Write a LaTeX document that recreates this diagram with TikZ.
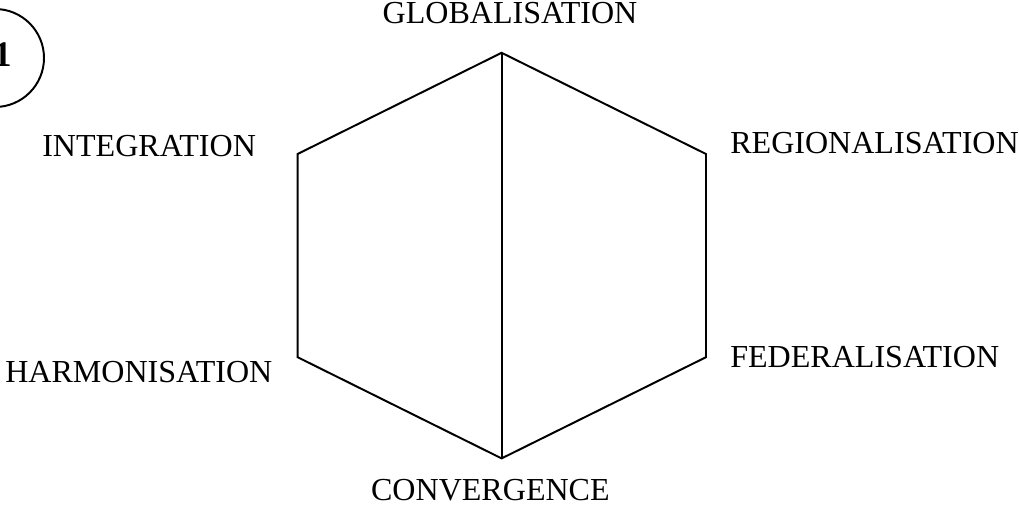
\documentclass[tikz,border=0pt]{standalone}
\usepackage{fontspec}
\setmainfont{Liberation Serif}
\begin{document}
\begin{tikzpicture}[
    hexLbG/.style={inner sep=0pt,font=\fontsize{22.8}{27}\selectfont},
    hexLnG/.style={draw=black,line width=1.4pt,line join=miter},
    numCrG/.style={circle,draw=black,line width=1.4pt,minimum size=2.45cm,inner sep=0pt},
]
\useasboundingbox (0,0) rectangle (25.475,12.7);
\coordinate (hexT) at (12.54,11.38);
\coordinate (hexUR) at (17.65,8.85);
\coordinate (hexLR) at (17.65,3.77);
\coordinate (hexB) at (12.54,1.24);
\coordinate (hexLL) at (7.44,3.77);
\coordinate (hexUL) at (7.44,8.85);
\node[numCrG] (numC) at (-0.125,11.25) {};
\node[anchor=base east,inner sep=0pt,font=\fontsize{25.6}{30}\selectfont\bfseries] (numT) at (0.3,11.03) {1};
\node[hexLbG,anchor=base] (glob) at (12.75,12.11) {GLOBALISATION};
\node[hexLbG,anchor=base] (conv) at (12.26,0.175) {CONVERGENCE};
\node[hexLbG,anchor=base west] (inte) at (1.05,8.775) {INTEGRATION};
\node[hexLbG,anchor=base west] (regi) at (18.25,8.85) {REGIONALISATION};
\node[hexLbG,anchor=base west] (harm) at (0.125,3.125) {HARMONISATION};
\node[hexLbG,anchor=base west] (fede) at (18.25,3.5) {FEDERALISATION};
\draw[hexLnG] (hexT) -- (hexUR) -- (hexLR) -- (hexB) -- (hexLL) -- (hexUL) -- cycle;
\draw[hexLnG] (hexT) -- (hexB);
\end{tikzpicture}
\end{document}
